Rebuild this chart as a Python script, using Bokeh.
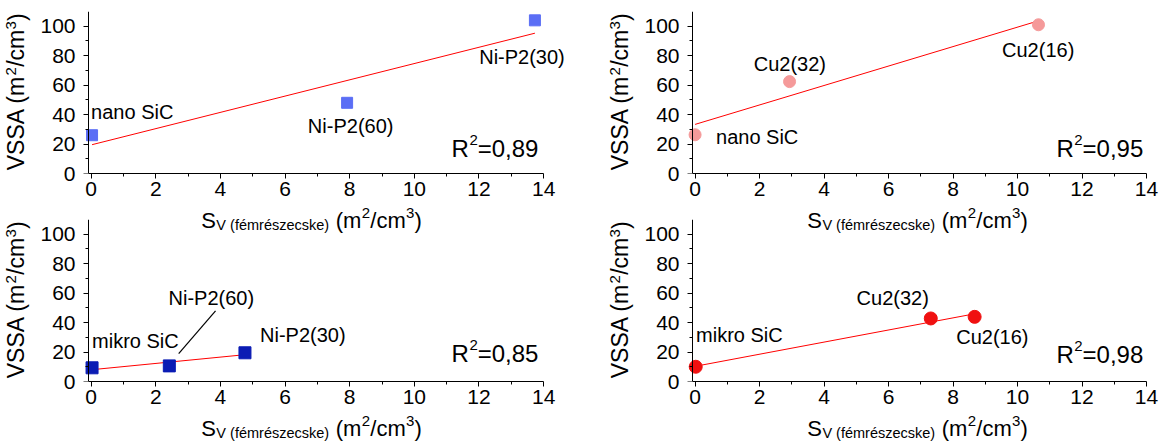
import numpy as np
from bokeh.plotting import figure
from bokeh.models import Range1d, FixedTicker, Label, ColumnDataSource, LinearAxis
from bokeh.layouts import row, column
from bokeh.core.properties import value
from bokeh.embed import file_html
from bokeh.resources import INLINE

FONT = "Liberation Sans"

# ---------------- data ----------------
x_ticks = [0, 2, 4, 6, 8, 10, 12, 14]
y_ticks = [0, 20, 40, 60, 80, 100]

# top-left: nano SiC + Ni-P2
tl_sv = [0.03, 7.92, 13.73]
tl_vssa = [26.0, 48.0, 104.0]
tl_names = ["nano SiC", "Ni-P2(60)", "Ni-P2(30)"]
tl_r2 = "0,89"

# top-right: nano SiC + Cu2
tr_sv = [0.0, 2.93, 10.65]
tr_vssa = [26.3, 62.4, 101.0]
tr_names = ["nano SiC", "Cu2(32)", "Cu2(16)"]
tr_r2 = "0,95"

# bottom-left: mikro SiC + Ni-P2
bl_sv = [0.03, 2.42, 4.76]
bl_vssa = [9.3, 10.6, 19.5]
bl_names = ["mikro SiC", "Ni-P2(60)", "Ni-P2(30)"]
bl_r2 = "0,85"

# bottom-right: mikro SiC + Cu2
br_sv = [0.02, 7.31, 8.67]
br_vssa = [10.0, 42.8, 43.9]
br_names = ["mikro SiC", "Cu2(32)", "Cu2(16)"]
br_r2 = "0,98"

# axis titles, split into pieces: (text, role)
y_title_pieces = [("VSSA (m", "main"), ("2", "sup"), ("/cm", "main"), ("3", "sup"), (")", "main")]
x_title_pieces = [("S", "main"), ("V (fémrészecske)", "sub"), (" ", "gap"),
                  ("(m", "main"), ("2", "sup"), ("/cm", "main"), ("3", "sup"), (")", "main")]

# ---------------- label placement (data coords) ----------------
tl_lab = dict(x=[0.0, 8.03, 13.33], y=[42.0, 32.4, 78.9], align=["left", "center", "center"])
tr_lab = dict(x=[0.65, 2.94, 10.64], y=[24.5, 74.4, 83.9], align=["left", "center", "center"])
bl_lab = dict(x=[0.03, 3.72, 6.55], y=[27.6, 57.0, 31.4], align=["left", "center", "center"])
br_lab = dict(x=[0.03, 6.13, 9.22], y=[31.4, 57.0, 29.9], align=["left", "center", "center"])
r2_pos = {"tl": (13.84, 16.7), "tr": (13.9, 16.7), "bl": (13.84, 18.8), "br": (13.9, 18.3)}
leader = dict(x0=[2.71], y0=[19.0], x1=[3.85], y1=[48.0])

# Arial / Liberation Sans advance widths (em)
ADV = {"(": .333, ")": .333, "m": .833, "/": .278, "c": .5, "2": .556, "3": .556, "S": .667,
       "V": .667, " ": .278, "f": .278, "é": .556, "r": .333, "s": .5, "z": .5, "e": .556,
       "k": .5, "R": .722, "=": .584, "0": .556, ",": .278, "8": .556, "9": .556, "5": .556,
       "A": .667}


def tw(text, size):
    return sum(ADV.get(ch, .556) for ch in text) * size


F_MAIN, F_SUB, F_SUP = 22, 14.5, 15
F_Y, F_YSUP = 23, 15
F_R2, F_R2SUP = 24, 15
AXIS_X = -0.08        # data x where the y axis line sits
PAD_PX = 8            # frame extends this far left of the y axis line


def label_axis(ticks, labels, standoff, size, orientation="horizontal"):
    return LinearAxis(ticker=FixedTicker(ticks=ticks),
                      major_label_overrides=dict(zip(ticks, labels)),
                      axis_line_color=None, major_tick_line_color=None, minor_tick_line_color=None,
                      major_tick_out=0, major_tick_in=0, minor_tick_out=0, minor_tick_in=0,
                      major_label_standoff=standoff, major_label_text_font=FONT,
                      major_label_orientation=orientation,
                      major_label_text_font_size=f"{size}px", major_label_text_color="black")


def layout_pieces(pieces, sizes, center, scale, extra):
    widths = [tw(t, sizes[r]) + extra.get(r, 0) for t, r in pieces]
    start = center - sum(widths) / 2 / scale
    groups = {"main": ([], []), "sub": ([], []), "sup": ([], [])}
    acc = 0.0
    for (t, r), w in zip(pieces, widths):
        if r != "gap":
            groups[r][0].append(round(start + (acc + w / 2) / scale, 4))
            groups[r][1].append(t)
        acc += w
    return groups


def make_panel(sv, vssa, names, r2, lab, r2xy, marker, color, size,
               width, height, axis_left_px, b_right, b_top, b_bottom, x_end, title_center,
               with_leader=False):
    y1 = 110
    b_left = axis_left_px - PAD_PX
    # px per data unit, fixed by the span between the axis line and x = 14 side
    frame_w = width - b_left - b_right
    xscale = (frame_w - PAD_PX) / (x_end - AXIS_X)
    x0 = AXIS_X - PAD_PX / xscale
    p = figure(width=width, height=height,
               x_range=Range1d(x0, x_end), y_range=Range1d(0, y1),
               output_backend="svg", toolbar_location=None,
               min_border_left=b_left, min_border_right=b_right,
               min_border_top=b_top, min_border_bottom=b_bottom,
               background_fill_alpha=0, border_fill_alpha=0)
    p.outline_line_color = None
    p.grid.visible = False
    yscale = (height - b_top - b_bottom) / y1

    xa, ya = p.xaxis[0], p.yaxis[0]
    for ax in (xa, ya):
        ax.axis_line_color = "black"
        ax.axis_line_width = 1
        ax.major_tick_line_color = "black"
        ax.minor_tick_line_color = "black"
        ax.major_tick_in = 0
        ax.major_tick_out = 5
        ax.minor_tick_in = 0
        ax.minor_tick_out = 3
        ax.major_label_text_font = FONT
        ax.major_label_text_font_size = "21px"
        ax.major_label_text_color = "black"
    xa.ticker = FixedTicker(ticks=x_ticks, minor_ticks=[1, 3, 5, 7, 9, 11, 13])
    xa.bounds = (AXIS_X, 14)
    xa.major_label_standoff = 3

    # y tick labels stay in the border; the y axis line + ticks sit at AXIS_X
    ya.ticker = FixedTicker(ticks=y_ticks)
    ya.axis_line_color = None
    ya.major_tick_line_color = None
    ya.minor_tick_line_color = None
    ya.major_tick_out = 0
    ya.minor_tick_out = 0
    ya.major_label_standoff = 13 - PAD_PX

    yline = LinearAxis(fixed_location=AXIS_X,
                       ticker=FixedTicker(ticks=y_ticks, minor_ticks=[10, 30, 50, 70, 90]),
                       major_label_overrides={t: "" for t in y_ticks},
                       axis_line_color="black", major_tick_line_color="black",
                       minor_tick_line_color="black", major_tick_in=0, major_tick_out=5,
                       minor_tick_in=0, minor_tick_out=3)

    # ---- y-axis title "VSSA (m²/cm³)" from label-only axes ----
    gy = layout_pieces(y_title_pieces, {"main": F_Y, "sup": F_YSUP}, 55.5, yscale, {"sup": 0.5})
    p.add_layout(label_axis(gy["main"][0], gy["main"][1], 8, F_Y, "vertical"), "left")
    p.add_layout(label_axis(gy["sup"][0], gy["sup"][1], -16, F_YSUP, "vertical"), "left")
    p.add_layout(yline, "left")

    # ---- x-axis title "S_V (fémrészecske) (m²/cm³)" from label-only axes ----
    gx = layout_pieces(x_title_pieces, {"main": F_MAIN, "sub": F_SUB, "sup": F_SUP, "gap": F_MAIN},
                       title_center, xscale, {"sub": 1, "sup": 0.5})
    p.add_layout(label_axis(gx["main"][0], gx["main"][1], 9, F_MAIN), "below")
    p.add_layout(label_axis(gx["sub"][0], gx["sub"][1], -19, F_SUB), "below")
    p.add_layout(label_axis(gx["sup"][0], gx["sup"][1], -28, F_SUP), "below")

    # regression line
    k, b = np.polyfit(sv, vssa, 1)
    fx = np.array([min(sv), max(sv)])
    p.line(fx, k * fx + b, line_color="#ff0000", line_width=1)

    if with_leader:
        p.segment(x0="x0", y0="y0", x1="x1", y1="y1", source=ColumnDataSource(leader),
                  line_color="black", line_width=1.2)

    src = ColumnDataSource(dict(x=sv, y=vssa))
    p.scatter("x", "y", source=src, marker=marker, size=size, fill_color=color,
              line_color=color)

    tsrc = ColumnDataSource(dict(x=lab["x"], y=lab["y"], t=names, a=lab["align"]))
    p.text("x", "y", text="t", source=tsrc, text_align="a", text_baseline="middle",
           text_font=value(FONT), text_font_size="20px", text_color="black")

    # ---- R² = value ----
    rest = "=" + r2
    w_rest = tw(rest, F_R2)
    w_sup = tw("2", F_R2SUP) + 0.5
    common = dict(x=r2xy[0], y=r2xy[1], text_align="right", text_baseline="alphabetic",
                  text_font=FONT, text_color="black")
    p.add_layout(Label(text=rest, text_font_size=f"{F_R2}px", **common))
    p.add_layout(Label(text="2", text_font_size=f"{F_R2SUP}px", x_offset=-w_rest,
                       y_offset=8.5, **common))
    p.add_layout(Label(text="R", text_font_size=f"{F_R2}px", x_offset=-(w_rest + w_sup),
                       **common))
    return p


p1 = make_panel(tl_sv, tl_vssa, tl_names, tl_r2, tl_lab, r2_pos["tl"], "square", "#5b6ef5", 11,
                590, 250, 88, 21, 11, 77, 14.8, 6.82)
p2 = make_panel(tr_sv, tr_vssa, tr_names, tr_r2, tr_lab, r2_pos["tr"], "circle", "#f59a9a", 12,
                572, 250, 102, 16, 11, 77, 14.0, 6.9)
p3 = make_panel(bl_sv, bl_vssa, bl_names, bl_r2, bl_lab, r2_pos["bl"], "square", "#0b1cb4", 12,
                590, 246, 88, 21, 19, 65, 14.8, 6.82, with_leader=True)
p4 = make_panel(br_sv, br_vssa, br_names, br_r2, br_lab, r2_pos["br"], "circle", "#f01010", 13,
                572, 246, 102, 16, 19, 65, 14.0, 6.9)

top = row(p1, p2)
bottom = row(p3, p4, margin=(-50, 0, 0, 0))
layout = column(top, bottom)

open("out.html", "w").write(file_html(layout, INLINE))
